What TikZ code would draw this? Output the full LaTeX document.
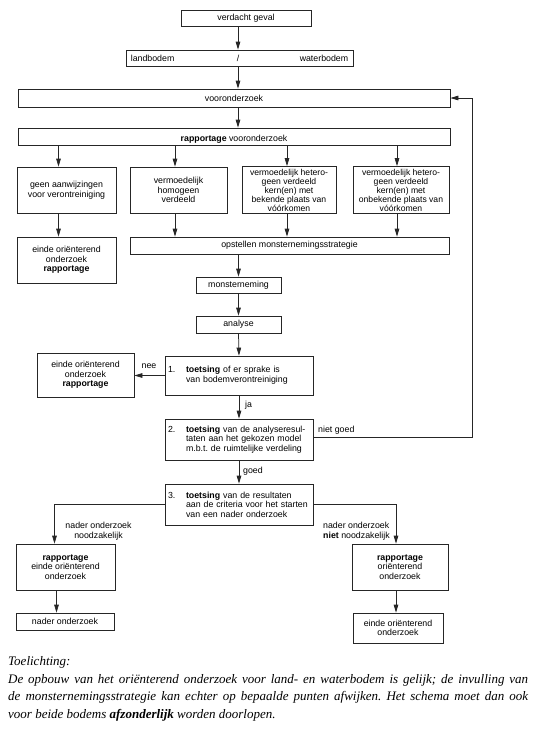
\documentclass[tikz,border=0pt]{standalone}
\usepackage{fontspec}
\setmainfont{Liberation Sans}
\newfontfamily\capfont{Liberation Serif}
\usetikzlibrary{arrows.meta,calc}
\frenchspacing
\begin{document}
\begin{tikzpicture}[x=1pt,y=-1pt,
  bx/.style={draw=black!85, line width=0.75pt, inner sep=0pt, align=center,
    font=\fontsize{8.8}{9.6}\selectfont},
  tight/.style={font=\fontsize{8.6}{9.0}\selectfont},
  tbx/.style={bx, align=left, text width=142pt, minimum width=148pt},
  arr/.style={draw=black!85, line width=0.75pt, -{Triangle[length=8pt,width=4.6pt]}},
  lbl/.style={inner sep=0pt, align=center, font=\fontsize{8.8}{9.6}\selectfont},
  captext/.style={inner sep=0pt, font=\capfont\itshape\fontsize{13}{17.5}\selectfont}]
\useasboundingbox (0,0) rectangle (537,732);

% top part
\node[bx, minimum width=130, minimum height=16] (vg) at (246,18) {verdacht geval};
\node[bx, minimum width=227, minimum height=16] (lw) at (239.5,58) {};
\node[lbl, anchor=west] (lwa) at ([xshift=5pt]lw.west) {landbodem};
\node[lbl] (lwb) at (238,58) {/};
\node[lbl, anchor=east] (lwc) at ([xshift=-5pt]lw.east) {waterbodem};
\node[bx, minimum width=432, minimum height=18] (vo) at (234,98) {vooronderzoek};
\node[bx, minimum width=432, minimum height=17] (rv) at (234,136.5) {};
\node[lbl] (rvt) at (234,139) {\textbf{rapportage} vooronderzoek};

% row of four
\node[bx, minimum width=99, minimum height=46] (b1) at (66.5,190) {geen aanwijzingen\\voor verontreiniging};
\node[bx, minimum width=97, minimum height=46] (b2) at (178.5,190) {vermoedelijk\\homogeen\\verdeeld};
\node[bx, tight, minimum width=94, minimum height=47] (b3) at (289,190) {vermoedelijk hetero-\\geen verdeeld\\kern(en) met\\bekende plaats van\\vóórkomen};
\node[bx, tight, minimum width=96, minimum height=47] (b4) at (401,190) {vermoedelijk hetero-\\geen verdeeld\\kern(en) met\\onbekende plaats van\\vóórkomen};

\node[bx, minimum width=99, minimum height=46] (e1) at (66.5,260) {einde oriënterend\\onderzoek\\\textbf{rapportage}};
\node[bx, minimum width=319, minimum height=17] (os) at (289.5,245.5) {opstellen monsternemingsstrategie};
\node[bx, minimum width=85, minimum height=16] (mn) at (238.5,285) {monsterneming};
\node[bx, minimum width=85, minimum height=17] (an) at (238.5,324.5) {analyse};

% toetsing boxes
\node[tbx, minimum height=39] (t1) at (239,375.5) {\makebox[18pt][l]{1.}\textbf{toetsing} of er sprake is\\\hspace*{18pt}van bodemverontreiniging};
\node[bx, minimum width=97, minimum height=44] (e2) at (85.5,375) {einde oriënterend\\onderzoek\\\textbf{rapportage}};
\node[tbx, minimum height=41] (t2) at (239,439.5) {\makebox[18pt][l]{2.}\textbf{toetsing} van de analyseresul-\\\hspace*{18pt}taten aan het gekozen model\\\hspace*{18pt}m.b.t. de ruimtelijke verdeling};
\node[tbx, minimum height=41] (t3) at (239,504.5) {\makebox[18pt][l]{3.}\textbf{toetsing} van de resultaten\\\hspace*{18pt}aan de criteria voor het starten\\\hspace*{18pt}van een nader onderzoek};

% bottom boxes
\node[bx, minimum width=99, minimum height=46] (r1) at (65.5,567) {\textbf{rapportage}\\einde oriënterend\\onderzoek};
\node[bx, minimum width=96, minimum height=46] (r2) at (400,567) {\textbf{rapportage}\\oriënterend\\onderzoek};
\node[bx, minimum width=98, minimum height=17] (no) at (65,621.5) {nader onderzoek};
\node[bx, minimum width=90, minimum height=30] (e3) at (398,628) {einde oriënterend\\onderzoek};

% helper coordinates
\coordinate (a1) at ($(b1.north)+(-8,0)$);
\coordinate (a2) at ($(b2.north)+(-3.5,0)$);
\coordinate (a3) at ($(b3.north)+(-2,0)$);
\coordinate (a4) at ($(b4.north)+(-4,0)$);
\coordinate (fb) at (472,437);
\coordinate (c1) at ($(r1.north)+(-11,0)$);
\coordinate (c2) at ($(r2.north)+(-4,0)$);
\coordinate (c3) at ($(r1.south)+(-9,0)$);

% connectors
\draw[arr] (lwb |- vg.south) -- (lwb |- lw.north);
\draw[arr] (lwb |- lw.south) -- (lwb |- vo.north);
\draw[arr] (lwb |- vo.south) -- (lwb |- rv.north);
\draw[arr] (a1 |- rv.south) -- (a1);
\draw[arr] (a2 |- rv.south) -- (a2);
\draw[arr] (a3 |- rv.south) -- (a3);
\draw[arr] (a4 |- rv.south) -- (a4);
\draw[arr] (a1 |- b1.south) -- (a1 |- e1.north);
\draw[arr] (a2 |- b2.south) -- (a2 |- os.north);
\draw[arr] (a3 |- b3.south) -- (a3 |- os.north);
\draw[arr] (a4 |- b4.south) -- (a4 |- os.north);
\draw[arr] (mn.north |- os.south) -- (mn.north);
\draw[arr] (mn.south) -- (an.north);
\draw[arr] (an.south) -- (t1.north);
\draw[arr] (t1.west) -- (t1.west -| e2.east);
\draw[arr] (t1.south) -- (t2.north);
\draw[arr] (t2.south) -- (t3.north);
\draw[arr] (t2.east |- fb) -- (fb) |- (vo.east);
\draw[arr] (t3.west) -| (c1);
\draw[arr] (t3.east) -| (c2);
\draw[arr] (c3) -- (c3 |- no.north);
\draw[arr] (c2 |- r2.south) -- (c2 |- e3.north);

% connector labels
\node[lbl] (nee) at (149,366) {nee};
\node[lbl, anchor=west] (ja) at (245,405) {ja};
\node[lbl, anchor=west] (ng) at (318,430) {niet goed};
\node[lbl, anchor=west] (goed) at (243,471) {goed};
\node[lbl] (l1) at (98.5,531.5) {nader onderzoek\\noodzakelijk};
\node[lbl, align=left, anchor=west] (l2) at (323,531.5) {nader onderzoek\\\textbf{niet} noodzakelijk};

% caption
\node[captext, anchor=base west] (tl) at (8,665) {Toelichting:};
\node[captext, anchor=north west, text width=520pt, align=justify] (cap) at (8,674)
  {De opbouw van het oriënterend onderzoek voor land- en waterbodem is gelijk; de invulling van\linebreak
   de monsternemingsstrategie kan echter op bepaalde punten afwijken. Het schema moet dan ook\linebreak
   voor beide bodems \textbf{afzonderlijk} worden doorlopen.};
\end{tikzpicture}
\end{document}
